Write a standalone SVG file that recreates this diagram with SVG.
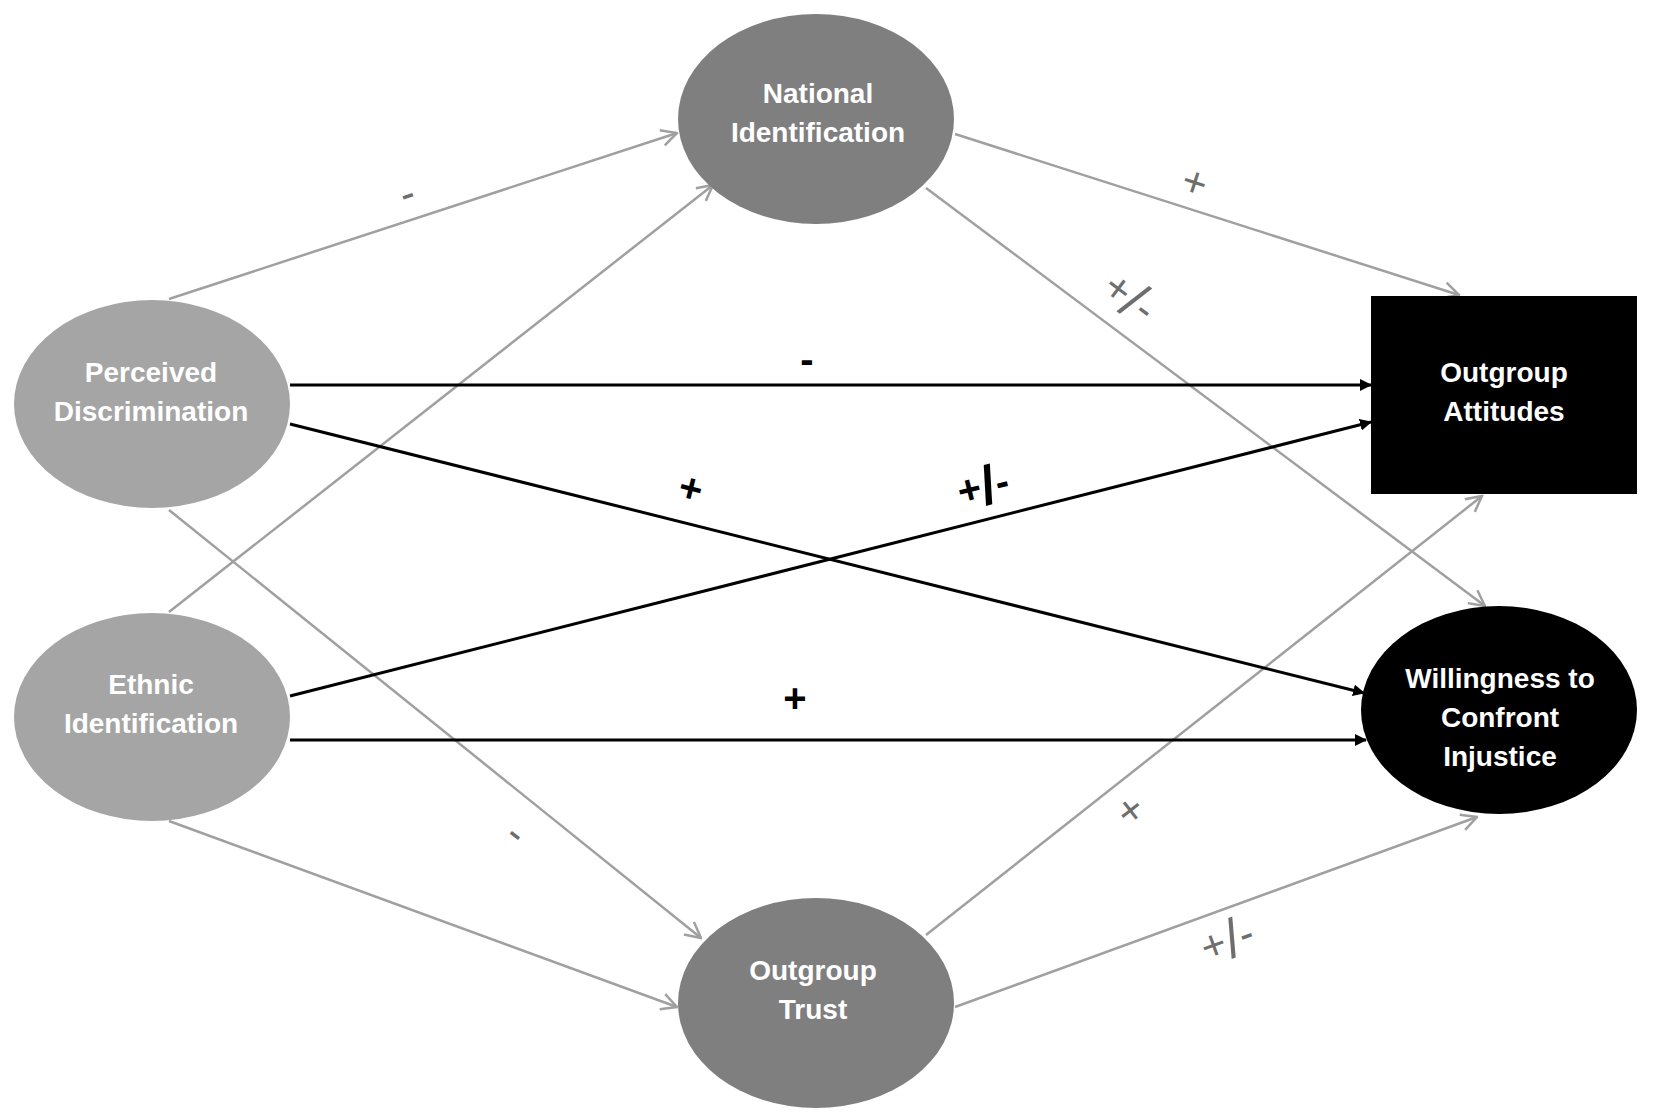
<svg xmlns="http://www.w3.org/2000/svg" width="1654" height="1118" viewBox="0 0 1654 1118">
<style>
.lbl{font-family:"Liberation Sans",Arial,sans-serif;font-weight:bold;font-size:28px;fill:#ffffff;text-anchor:middle}
.g{stroke:#a0a0a0;stroke-width:2.5;fill:none}
.b{stroke:#000000;stroke-width:3;fill:none}
.sg{font-family:"Liberation Sans",Arial,sans-serif;font-size:42px;fill:#6e6e6e;text-anchor:middle;dominant-baseline:central}
.sb{font-family:"Liberation Sans",Arial,sans-serif;font-weight:bold;font-size:40px;fill:#000000;text-anchor:middle;dominant-baseline:central}
.sl{font-size:54px}
</style>
<defs>
<marker id="ag" viewBox="0 0 20 20" markerWidth="20" markerHeight="20" refX="18.5" refY="10" orient="auto" markerUnits="userSpaceOnUse">
<path d="M3,2 L18.5,10 L3,18" fill="none" stroke="#a0a0a0" stroke-width="2.5"/>
</marker>
<marker id="ab" viewBox="0 0 12 12" markerWidth="12" markerHeight="12" refX="11" refY="6" orient="auto" markerUnits="userSpaceOnUse">
<path d="M0,0 L12,6 L0,12 z" fill="#000000"/>
</marker>
</defs>
<rect width="1654" height="1118" fill="#ffffff"/>
<g id="connectors">
<line class="g" x1="169" y1="299" x2="677" y2="133" marker-end="url(#ag)"/>
<line class="g" x1="169" y1="612" x2="713" y2="185" marker-end="url(#ag)"/>
<line class="g" x1="169" y1="510" x2="701" y2="938" marker-end="url(#ag)"/>
<line class="g" x1="169" y1="821" x2="677" y2="1007" marker-end="url(#ag)"/>
<line class="g" x1="955" y1="134" x2="1459" y2="295" marker-end="url(#ag)"/>
<line class="g" x1="926" y1="188" x2="1485" y2="606" marker-end="url(#ag)"/>
<line class="g" x1="926" y1="935" x2="1482" y2="496" marker-end="url(#ag)"/>
<line class="g" x1="955" y1="1007" x2="1477" y2="817" marker-end="url(#ag)"/>
<line class="b" x1="290" y1="385" x2="1371" y2="385" marker-end="url(#ab)"/>
<line class="b" x1="290" y1="424" x2="1364" y2="693" marker-end="url(#ab)"/>
<line class="b" x1="290" y1="696" x2="1371" y2="422" marker-end="url(#ab)"/>
<line class="b" x1="290" y1="740" x2="1366" y2="740" marker-end="url(#ab)"/>
</g>
<g id="edge-labels">
<text class="sg" transform="translate(407,193) rotate(-18)">-</text>
<text class="sg" transform="translate(1195,182) rotate(18)">+</text>
<text class="sg" transform="translate(1130,297) rotate(37)">+<tspan class="sl">/</tspan>-</text>
<text class="sb" x="807" y="359">-</text>
<text class="sb" transform="translate(691,488) rotate(14)">+</text>
<text class="sb" transform="translate(983,486) rotate(-14)">+<tspan class="sl">/</tspan>-</text>
<text class="sb" x="795" y="698">+</text>
<text class="sg" transform="translate(517,833) rotate(38)">-</text>
<text class="sg" transform="translate(1130,810) rotate(-38)">+</text>
<text class="sg" transform="translate(1227,940) rotate(-20)">+<tspan class="sl">/</tspan>-</text>
</g>
<g id="national-identification">
<ellipse cx="816" cy="119" rx="138" ry="105" fill="#7f7f7f"/>
<text class="lbl" x="818" y="103">National</text>
<text class="lbl" x="818" y="142">Identification</text>
</g>
<g id="perceived-discrimination">
<ellipse cx="152" cy="404" rx="138" ry="104" fill="#a5a5a5"/>
<text class="lbl" x="151" y="382">Perceived</text>
<text class="lbl" x="151" y="421">Discrimination</text>
</g>
<g id="ethnic-identification">
<ellipse cx="152" cy="717" rx="138" ry="104" fill="#a5a5a5"/>
<text class="lbl" x="151" y="694">Ethnic</text>
<text class="lbl" x="151" y="733">Identification</text>
</g>
<g id="outgroup-trust">
<ellipse cx="816" cy="1003" rx="138" ry="105" fill="#7f7f7f"/>
<text class="lbl" x="813" y="980">Outgroup</text>
<text class="lbl" x="813" y="1019">Trust</text>
</g>
<g id="outgroup-attitudes">
<rect x="1371" y="296" width="266" height="198" fill="#000000"/>
<text class="lbl" x="1504" y="382">Outgroup</text>
<text class="lbl" x="1504" y="421">Attitudes</text>
</g>
<g id="willingness-to-confront-injustice">
<ellipse cx="1499" cy="710" rx="138" ry="104" fill="#000000"/>
<text class="lbl" x="1500" y="688">Willingness to</text>
<text class="lbl" x="1500" y="727">Confront</text>
<text class="lbl" x="1500" y="766">Injustice</text>
</g>
</svg>
